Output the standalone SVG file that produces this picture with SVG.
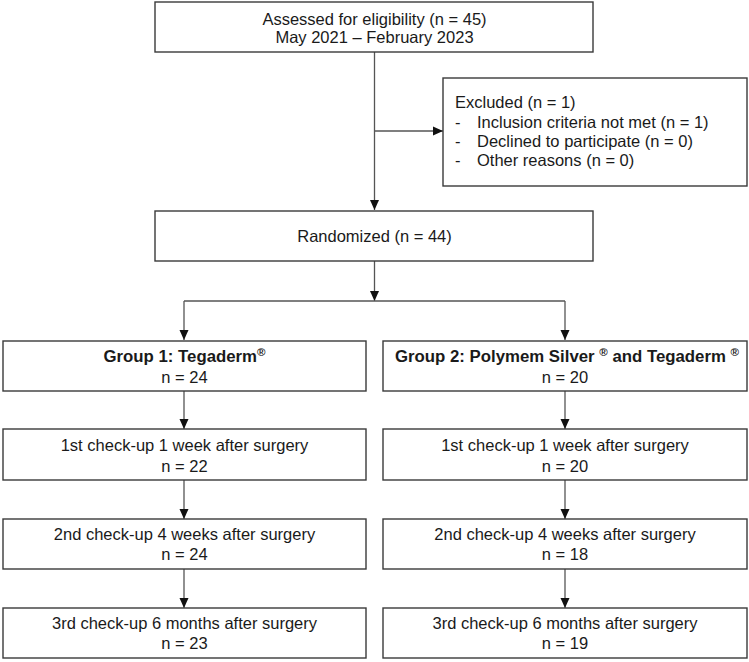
<svg xmlns="http://www.w3.org/2000/svg" width="749" height="662" viewBox="0 0 749 662">
<style>
.box{fill:#fff;stroke:#3a3a3a;stroke-width:1.4}
.t{font-family:"Liberation Sans",Arial,sans-serif;font-size:16.5px;fill:#1a1a1a}
.c{text-anchor:middle}
.b{font-weight:bold;font-size:16.8px}
.sup{font-size:11.5px}
.ln{fill:none;stroke:#555;stroke-width:1.3}
</style>
<defs>
<marker id="ah" markerUnits="userSpaceOnUse" markerWidth="10" markerHeight="10" viewBox="0 0 10 10" refX="10" refY="5" orient="auto">
<path d="M0,0.5 L10,5 L0,9.5 z" fill="#111"/>
</marker>
</defs>
<g id="connectors">
<line class="ln" x1="374.5" y1="52" x2="374.5" y2="210" marker-end="url(#ah)"/>
<line class="ln" x1="374.5" y1="131" x2="443" y2="131" marker-end="url(#ah)"/>
<line class="ln" x1="374.5" y1="261" x2="374.5" y2="301" marker-end="url(#ah)"/>
<line class="ln" x1="184" y1="301" x2="565" y2="301"/>
<line class="ln" x1="184" y1="301" x2="184" y2="340" marker-end="url(#ah)"/>
<line class="ln" x1="565" y1="301" x2="565" y2="340" marker-end="url(#ah)"/>
<line class="ln" x1="184" y1="391" x2="184" y2="429" marker-end="url(#ah)"/>
<line class="ln" x1="565" y1="391" x2="565" y2="429" marker-end="url(#ah)"/>
<line class="ln" x1="184" y1="480" x2="184" y2="519" marker-end="url(#ah)"/>
<line class="ln" x1="565" y1="480" x2="565" y2="519" marker-end="url(#ah)"/>
<line class="ln" x1="184" y1="569" x2="184" y2="608" marker-end="url(#ah)"/>
<line class="ln" x1="565" y1="569" x2="565" y2="608" marker-end="url(#ah)"/>
</g>
<g id="assessed">
<rect class="box" x="155" y="2" width="438" height="50"/>
<text class="t c" x="374.5" y="25">Assessed for eligibility (n = 45)</text>
<text class="t c" x="374.5" y="43">May 2021 – February 2023</text>
</g>
<g id="excluded">
<rect class="box" x="443" y="78" width="304" height="108"/>
<text class="t" x="455" y="108">Excluded (n = 1)</text>
<text class="t" x="455" y="128">-</text><text class="t" x="477" y="128">Inclusion criteria not met (n = 1)</text>
<text class="t" x="455" y="147">-</text><text class="t" x="477" y="147">Declined to participate (n = 0)</text>
<text class="t" x="455" y="166">-</text><text class="t" x="477" y="166">Other reasons (n = 0)</text>
</g>
<g id="randomized">
<rect class="box" x="155" y="211" width="438" height="50"/>
<text class="t c" x="374.5" y="242">Randomized (n = 44)</text>
</g>
<g id="group1">
<rect class="box" x="3" y="341" width="363" height="50"/>
<text class="t c b" x="184.5" y="362">Group 1: Tegaderm<tspan class="sup" dy="-6">®</tspan></text>
<text class="t c" x="184.5" y="383">n = 24</text>
</g>
<g id="group2">
<rect class="box" x="383" y="341" width="364" height="50"/>
<text class="t c b" x="567" y="362">Group 2: Polymem Silver <tspan class="sup" dy="-6">®</tspan><tspan dy="6"> and Tegaderm </tspan><tspan class="sup" dy="-6">®</tspan></text>
<text class="t c" x="565" y="383">n = 20</text>
</g>
<g id="g1-check1">
<rect class="box" x="3" y="429" width="363" height="51"/>
<text class="t c" x="184.5" y="451">1st check-up 1 week after surgery</text>
<text class="t c" x="184.5" y="472">n = 22</text>
</g>
<g id="g2-check1">
<rect class="box" x="383" y="429" width="364" height="51"/>
<text class="t c" x="565" y="451">1st check-up 1 week after surgery</text>
<text class="t c" x="565" y="472">n = 20</text>
</g>
<g id="g1-check2">
<rect class="box" x="3" y="519" width="363" height="50"/>
<text class="t c" x="184.5" y="540">2nd check-up 4 weeks after surgery</text>
<text class="t c" x="184.5" y="560">n = 24</text>
</g>
<g id="g2-check2">
<rect class="box" x="383" y="519" width="364" height="50"/>
<text class="t c" x="565" y="540">2nd check-up 4 weeks after surgery</text>
<text class="t c" x="565" y="560">n = 18</text>
</g>
<g id="g1-check3">
<rect class="box" x="3" y="608" width="363" height="50"/>
<text class="t c" x="184.5" y="629">3rd check-up 6 months after surgery</text>
<text class="t c" x="184.5" y="649">n = 23</text>
</g>
<g id="g2-check3">
<rect class="box" x="383" y="608" width="364" height="50"/>
<text class="t c" x="565" y="629">3rd check-up 6 months after surgery</text>
<text class="t c" x="565" y="649">n = 19</text>
</g>
</svg>
